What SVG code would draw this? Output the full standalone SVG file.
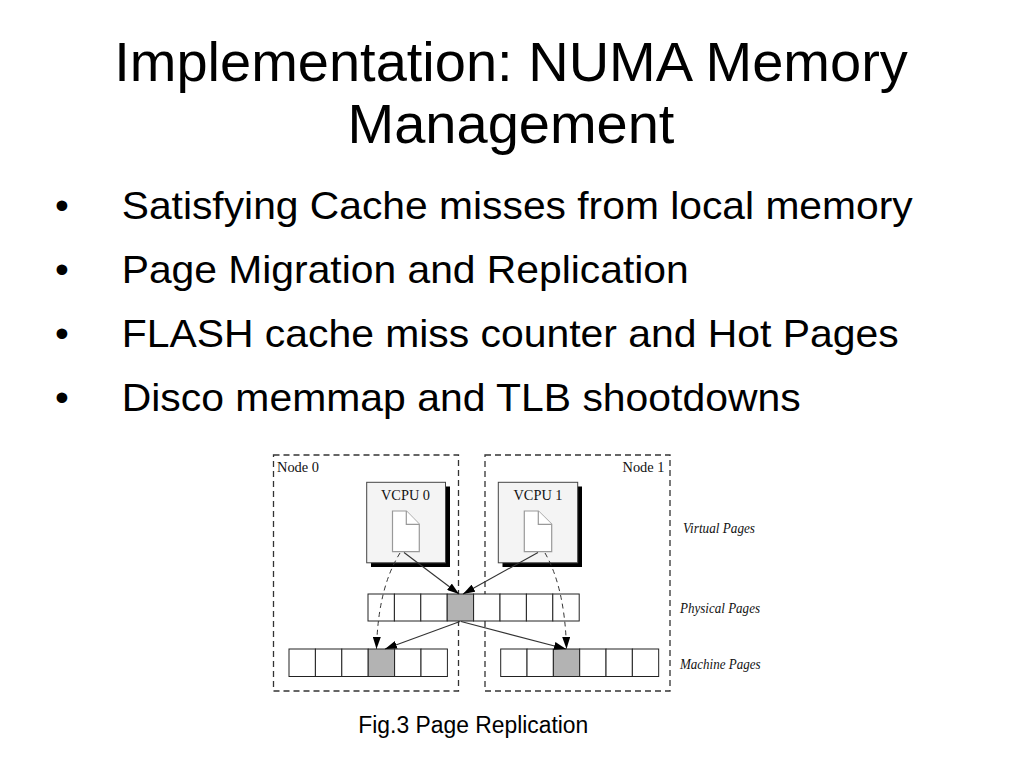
<svg xmlns="http://www.w3.org/2000/svg" width="1023" height="767" viewBox="0 0 1023 767">
<style>
.title{font-family:"Liberation Sans",Arial,sans-serif;font-size:56px;fill:#000;text-anchor:middle}
.bul{font-family:"Liberation Sans",Arial,sans-serif;font-size:39.5px;fill:#000}
.cap{font-family:"Liberation Sans",Arial,sans-serif;font-size:23px;fill:#000}
.lbl{font-family:"Liberation Serif","Times New Roman",serif;font-size:14.5px;fill:#111}
.ital{font-family:"Liberation Serif","Times New Roman",serif;font-size:13.8px;font-style:italic;fill:#111}
.node{fill:none;stroke:#333;stroke-width:1.3;stroke-dasharray:6 4}
.vbox{fill:#f4f4f4;stroke:#444;stroke-width:1}
.shadow{fill:#000}
.page{fill:#fff;stroke:#999;stroke-width:1.2}
.cell{fill:#fff;stroke:#222;stroke-width:1}
.hot{fill:#b3b3b3;stroke:#222;stroke-width:1}
.arr{fill:none;stroke:#333;stroke-width:1.1;marker-end:url(#ah)}
.darr{fill:none;stroke:#333;stroke-width:1;stroke-dasharray:5 4;marker-end:url(#ah)}
</style>
<defs>
<marker id="ah" markerUnits="userSpaceOnUse" markerWidth="12" markerHeight="8" refX="12" refY="4" orient="auto">
<path d="M0,0 L12,4 L0,8 z" fill="#000" stroke="none"/>
</marker>
</defs>
<rect width="1023" height="767" fill="#fff"/>

<g id="title">
<text class="title" x="511" y="81">Implementation: NUMA Memory</text>
<text class="title" x="511" y="143">Management</text>
</g>

<g id="bullets">
<text class="bul" x="62" y="219" text-anchor="middle">•</text>
<text class="bul" x="121.7" y="219" textLength="791" lengthAdjust="spacingAndGlyphs">Satisfying Cache misses from local memory</text>
<text class="bul" x="62" y="283" text-anchor="middle">•</text>
<text class="bul" x="121.7" y="283" textLength="567" lengthAdjust="spacingAndGlyphs">Page Migration and Replication</text>
<text class="bul" x="62" y="347" text-anchor="middle">•</text>
<text class="bul" x="121.7" y="347" textLength="777" lengthAdjust="spacingAndGlyphs">FLASH cache miss counter and Hot Pages</text>
<text class="bul" x="62" y="411" text-anchor="middle">•</text>
<text class="bul" x="121.7" y="411" textLength="679" lengthAdjust="spacingAndGlyphs">Disco memmap and TLB shootdowns</text>
</g>

<g id="node0">
<rect class="node" x="273.5" y="455" width="185" height="236"/>
<text class="lbl" x="277" y="471.5" textLength="42" lengthAdjust="spacingAndGlyphs">Node 0</text>
</g>
<g id="node1">
<rect class="node" x="485" y="455" width="185" height="236"/>
<text class="lbl" x="664.5" y="471.5" text-anchor="end" textLength="42" lengthAdjust="spacingAndGlyphs">Node 1</text>
</g>

<g id="vcpu0">
<rect class="shadow" x="371" y="486.5" width="79" height="80.5"/>
<rect class="vbox" x="366.7" y="482.3" width="78.8" height="80.5"/>
<text class="lbl" x="405.5" y="500.3" text-anchor="middle" textLength="49" lengthAdjust="spacingAndGlyphs">VCPU 0</text>
<path class="page" d="M392.5,511 H406.3 L419.3,524.3 V551.7 H392.5 Z"/>
<path class="page" d="M406.3,511 V524.3 H419.3" fill="none"/>
</g>
<g id="vcpu1">
<rect class="shadow" x="502.5" y="486.5" width="79.5" height="80.5"/>
<rect class="vbox" x="498.3" y="482.3" width="79.4" height="80.5"/>
<text class="lbl" x="538" y="500.3" text-anchor="middle" textLength="49" lengthAdjust="spacingAndGlyphs">VCPU 1</text>
<path class="page" d="M524.3,511 H538.3 L551.7,524.3 V551.7 H524.3 Z"/>
<path class="page" d="M538.3,511 V524.3 H551.7" fill="none"/>
</g>

<g id="physical-pages">
<rect class="cell" x="368" y="594" width="26.4" height="27"/>
<rect class="cell" x="394.4" y="594" width="26.4" height="27"/>
<rect class="cell" x="420.8" y="594" width="26.4" height="27"/>
<rect class="hot" x="447.2" y="594" width="26.4" height="27"/>
<rect class="cell" x="473.6" y="594" width="26.4" height="27"/>
<rect class="cell" x="500" y="594" width="26.4" height="27"/>
<rect class="cell" x="526.4" y="594" width="26.4" height="27"/>
<rect class="cell" x="552.8" y="594" width="26.4" height="27"/>
</g>

<g id="machine-pages-0">
<rect class="cell" x="289" y="649" width="26.4" height="27.5"/>
<rect class="cell" x="315.4" y="649" width="26.4" height="27.5"/>
<rect class="cell" x="341.8" y="649" width="26.4" height="27.5"/>
<rect class="hot" x="368.2" y="649" width="26.4" height="27.5"/>
<rect class="cell" x="394.6" y="649" width="26.4" height="27.5"/>
<rect class="cell" x="421" y="649" width="26.4" height="27.5"/>
</g>
<g id="machine-pages-1">
<rect class="cell" x="500.7" y="649" width="26.33" height="27.5"/>
<rect class="cell" x="527.03" y="649" width="26.33" height="27.5"/>
<rect class="hot" x="553.36" y="649" width="26.33" height="27.5"/>
<rect class="cell" x="579.69" y="649" width="26.33" height="27.5"/>
<rect class="cell" x="606.02" y="649" width="26.33" height="27.5"/>
<rect class="cell" x="632.35" y="649" width="26.33" height="27.5"/>
</g>

<g id="layer-labels">
<text class="ital" x="683" y="533" textLength="72" lengthAdjust="spacingAndGlyphs">Virtual Pages</text>
<text class="ital" x="680" y="612.5" textLength="80" lengthAdjust="spacingAndGlyphs">Physical Pages</text>
<text class="ital" x="680" y="668.5" textLength="80.5" lengthAdjust="spacingAndGlyphs">Machine Pages</text>
</g>

<g id="connectors">
<line class="arr" x1="404" y1="552.5" x2="459" y2="594"/>
<line class="arr" x1="538" y1="552.5" x2="463" y2="594"/>
<line class="arr" x1="460" y1="621.5" x2="385" y2="649"/>
<line class="arr" x1="461" y1="621.5" x2="566" y2="649"/>
<path class="darr" d="M400,553 Q378,588 376.5,649"/>
<path class="darr" d="M545,553 Q565,588 566.5,649"/>
</g>

<g id="caption">
<text class="cap" x="358.3" y="732.5" textLength="230" lengthAdjust="spacingAndGlyphs">Fig.3 Page Replication</text>
</g>
</svg>
